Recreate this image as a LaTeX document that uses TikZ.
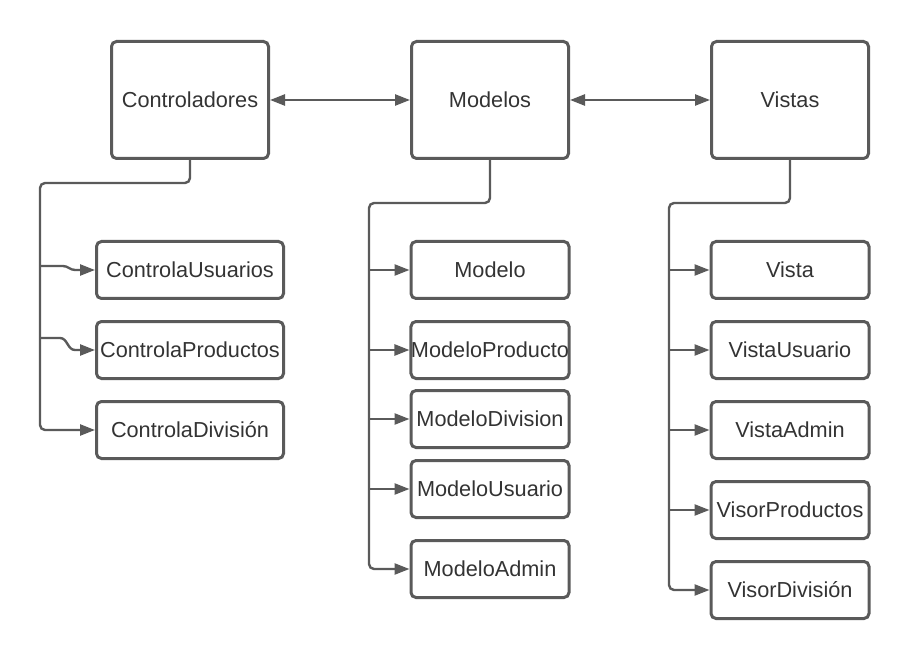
\documentclass[tikz,border=0pt]{standalone}
\usepackage{fontspec}
\setmainfont{Liberation Sans}
\usetikzlibrary{arrows.meta,positioning}
\definecolor{linegray}{HTML}{5A5A5A}
\definecolor{textgray}{HTML}{333333}

\begin{document}
\begin{tikzpicture}[
    x=1pt, y=-1pt,
    node distance=20pt,
    box/.style = {draw=linegray, line width=3pt, rounded corners=5pt, align=center, text=textgray,
                  inner xsep=0pt, font=\fontsize{21.7}{26}\selectfont},
    topbox/.style = {box, minimum width=157pt, minimum height=117pt},
    ctrlbox/.style = {box, minimum width=187pt, minimum height=57pt},
    colbox/.style = {box, minimum width=158pt, minimum height=57pt},
    link/.style = {draw=linegray, line width=2.4pt, rounded corners=5pt},
    >={Triangle[length=15pt, width=11pt]}
  ]
  \useasboundingbox (0,0) rectangle (910,660);
  \node[topbox] (ctrl) at (190,100) {Controladores};
  \node[topbox] (mod) at (490,100) {Modelos};
  \node[topbox] (vis) at (790,100) {Vistas};
  \draw[link, <->] (ctrl) -- (mod);
  \draw[link, <->] (mod) -- (vis);

  % controladores
  \node[ctrlbox] (cusr) at (190,270) {ControlaUsuarios};
  \node[ctrlbox, below=of cusr] (cprod) {ControlaProductos};
  \node[ctrlbox, below=of cprod] (cdiv) {ControlaDivisión};
  \coordinate (ct) at (40,183);
  \coordinate (cb1) at (40,266);
  \coordinate (cb2) at (40,338);
  \draw[link, ->] (ctrl.south) |- (ct) |- (cdiv.west);
  \draw[link, ->, rounded corners=0pt] (cb1) -- ++(23,0) to[out=0, in=180] ++(12,4) -- (cusr.west);
  \draw[link, ->, rounded corners=0pt] (cb2) -- ++(20,0) to[out=0, in=180] ++(15,12) -- (cprod.west);

  % modelos
  \node[colbox] (mbase) at (490,270) {Modelo};
  \node[colbox, below=of mbase] (mprod) {ModeloProducto};
  \node[colbox, below=9pt of mprod] (mdiv) {ModeloDivision};
  \node[colbox, below=10pt of mdiv] (musr) {ModeloUsuario};
  \node[colbox, below=of musr] (madm) {ModeloAdmin};
  \coordinate (mt) at (369,203);
  \draw[link, ->] (mod.south) |- (mt) |- (madm.west);
  \foreach \n in {mbase, mprod, mdiv, musr}
    \draw[link, ->] (mt |- \n.west) -- (\n.west);

  % vistas
  \node[colbox] (vbase) at (790,270) {Vista};
  \node[colbox, below=of vbase] (vusr) {VistaUsuario};
  \node[colbox, below=of vusr] (vadm) {VistaAdmin};
  \node[colbox, below=of vadm] (vprod) {VisorProductos};
  \node[colbox, below=of vprod] (vdiv) {VisorDivisión};
  \coordinate (vt) at (669,203);
  \draw[link, ->] (vis.south) |- (vt) |- (vdiv.west);
  \foreach \n in {vbase, vusr, vadm, vprod}
    \draw[link, ->] (vt |- \n.west) -- (\n.west);
\end{tikzpicture}
\end{document}
